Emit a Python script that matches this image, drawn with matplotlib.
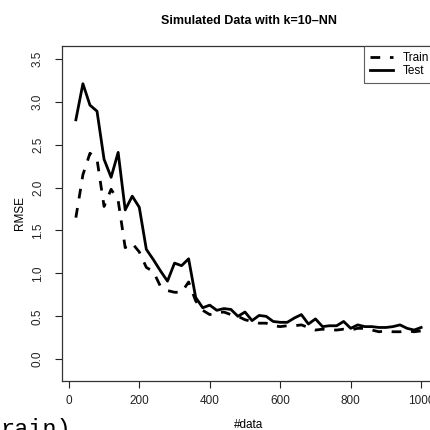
import matplotlib
matplotlib.use("Agg")
import matplotlib.pyplot as plt

plt.rcParams['font.family'] = ['Liberation Sans', 'DejaVu Sans']

# number of data points
n_data = [20, 40, 60, 80, 100, 120, 140, 160, 180, 200,
          220, 240, 260, 280, 300, 320, 340, 360, 380, 400,
          420, 440, 460, 480, 500, 520, 540, 560, 580, 600,
          620, 640, 660, 680, 700, 720, 740, 760, 780, 800,
          820, 840, 860, 880, 900, 920, 940, 960, 980, 1000]

rmse_train = [1.65, 2.15, 2.40, 2.33, 1.78, 1.98, 1.85, 1.30, 1.35, 1.25,
              1.07, 1.02, 0.85, 0.80, 0.78, 0.78, 0.90, 0.68, 0.57, 0.52,
              0.54, 0.55, 0.52, 0.50, 0.46, 0.44, 0.42, 0.42, 0.39, 0.38,
              0.39, 0.39, 0.40, 0.37, 0.34, 0.35, 0.34, 0.34, 0.35, 0.34,
              0.36, 0.36, 0.34, 0.32, 0.33, 0.32, 0.32, 0.33, 0.32, 0.33]

rmse_test = [2.79, 3.21, 2.96, 2.89, 2.33, 2.12, 2.41, 1.74, 1.90, 1.77,
             1.28, 1.16, 1.03, 0.91, 1.12, 1.09, 1.17, 0.72, 0.60, 0.63,
             0.57, 0.59, 0.58, 0.50, 0.55, 0.45, 0.51, 0.50, 0.44, 0.43,
             0.43, 0.48, 0.52, 0.41, 0.47, 0.38, 0.39, 0.39, 0.44, 0.36,
             0.40, 0.38, 0.38, 0.37, 0.37, 0.38, 0.40, 0.36, 0.34, 0.37]

x_ticks = [0, 200, 400, 600, 800, 1000]
y_ticks = [0.0, 0.5, 1.0, 1.5, 2.0, 2.5, 3.0, 3.5]

fig = plt.figure(figsize=(4.31, 4.30), dpi=100)
ax = fig.add_axes([0.1439, 0.1147, 0.8654, 0.7784])

ax.plot(n_data, rmse_train, color="black", lw=2.0, linestyle=(0, (3.5, 3.5)), label="Train")
ax.plot(n_data, rmse_test, color="black", lw=2.0, label="Test")

ax.set_xlim(-19.3, 1039.3)
ax.set_ylim(-0.25, 3.65)
ax.set_xticks(x_ticks)
ax.set_yticks(y_ticks)
ax.set_xticklabels([str(v) for v in x_ticks])
ax.set_yticklabels([f"{v:.1f}" for v in y_ticks], rotation=90, va="center")
ax.tick_params(direction="out", length=5, width=0.8, labelsize=8.5, colors="#222222")
ax.tick_params(axis="x", pad=5)
ax.tick_params(axis="y", pad=8)

for s in ax.spines.values():
    s.set_linewidth(0.9)
    s.set_color("#333333")

ax.set_title("Simulated Data with k=10\u2013NN", fontsize=9, fontweight="bold", pad=16)
ax.set_xlabel("#data", fontsize=8.5, labelpad=9)
ax.set_ylabel("RMSE", fontsize=8.5, labelpad=4)

leg = ax.legend(loc="upper right", borderaxespad=0, fancybox=False, fontsize=8.5,
                handlelength=2.0, handletextpad=0.8, borderpad=0.5, labelspacing=0.1)
leg.get_frame().set_edgecolor("#333333")
leg.get_frame().set_linewidth(0.8)

# leftover text cut at the bottom of the image
fig.text(0.0, -0.013, "rain)", family=["Liberation Mono", "DejaVu Sans Mono"],
         fontsize=17, va="baseline", ha="left")

fig.savefig("out.png", dpi=100)
